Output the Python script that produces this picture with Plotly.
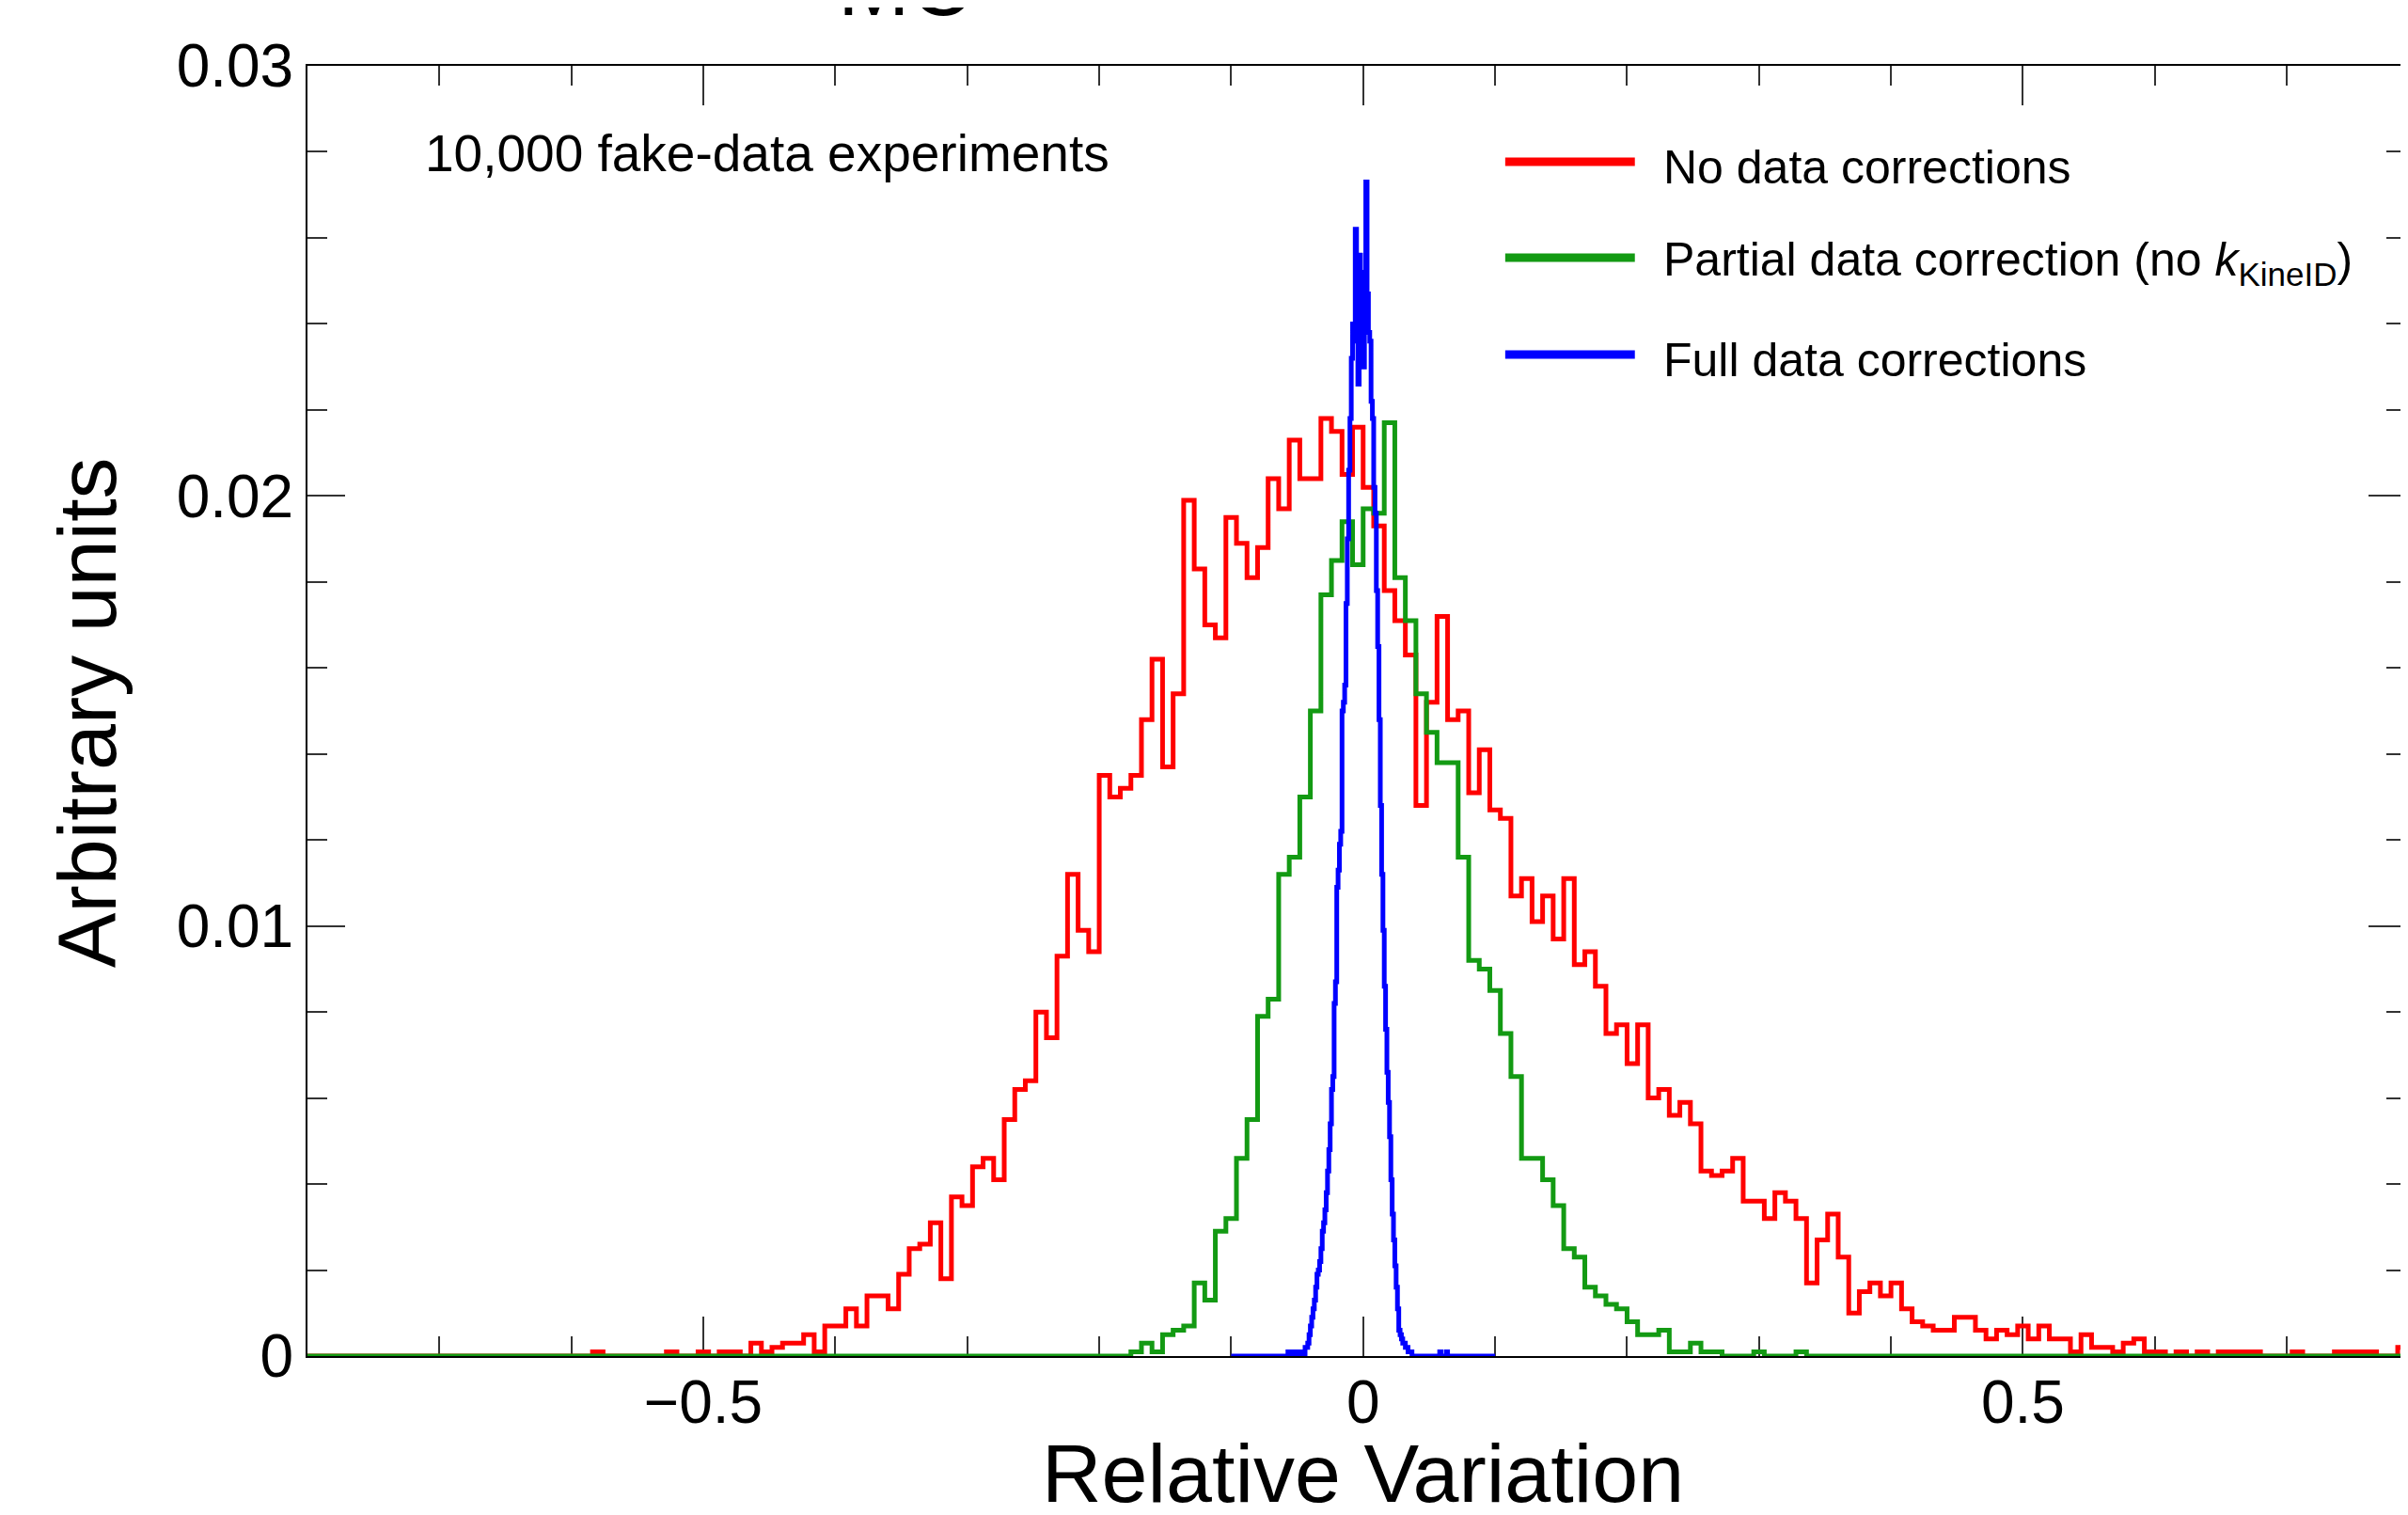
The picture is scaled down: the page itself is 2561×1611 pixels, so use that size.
import numpy as np
import plotly.graph_objects as go

# ---------------- data (bin contents) ----------------
# "No data corrections": 200 bins on [-0.8, 0.8]; listed from bin starting at -0.584
red_range = (-0.8, 0.8)
red_nbins = 200
red_first_edge = -0.584
red_values = [
    0.0001, 0, 0, 0, 0, 0, 0, 0.0001, 0, 0,                                      # -0.584 .. -0.512
    0.0001, 0, 0.0001, 0.0001, 0, 0.0003, 0.0001, 0.0002, 0.0003, 0.0003,        # -0.504 .. -0.432
    0.0005, 0.0001, 0.0007, 0.0007, 0.0011, 0.0007, 0.0014, 0.0014, 0.0011, 0.0019,  # -0.424 .. -0.352
    0.0025, 0.0026, 0.0031, 0.0018, 0.0037, 0.0035, 0.0044, 0.0046, 0.0041, 0.0055,  # -0.344 .. -0.272
    0.0062, 0.0064, 0.0080, 0.0074, 0.0093, 0.0112, 0.0099, 0.0094, 0.0135, 0.0130,  # -0.264 .. -0.192
    0.0132, 0.0135, 0.0148, 0.0162, 0.0137, 0.0154, 0.0199, 0.0183, 0.0170, 0.0167,  # -0.184 .. -0.112
    0.0195, 0.0189, 0.0181, 0.0188, 0.0204, 0.0197, 0.0213, 0.0204, 0.0204, 0.0218,  # -0.104 .. -0.032
    0.0215, 0.0205, 0.0216, 0.0202, 0.0193, 0.0178, 0.0171, 0.0163, 0.0128, 0.0152,  # -0.024 .. 0.048
    0.0172, 0.0148, 0.0150, 0.0131, 0.0141, 0.0127, 0.0125, 0.0107, 0.0111, 0.0101,  # 0.056 .. 0.128
    0.0107, 0.0097, 0.0111, 0.0091, 0.0094, 0.0086, 0.0075, 0.0077, 0.0068, 0.0077,  # 0.136 .. 0.208
    0.0060, 0.0062, 0.0056, 0.0059, 0.0054, 0.0043, 0.0042, 0.0043, 0.0046, 0.0036,  # 0.216 .. 0.288
    0.0036, 0.0032, 0.0038, 0.0036, 0.0032, 0.0017, 0.0027, 0.0033, 0.0023, 0.0010,  # 0.296 .. 0.368
    0.0015, 0.0017, 0.0014, 0.0017, 0.0011, 0.0008, 0.0007, 0.0006, 0.0006, 0.0009,  # 0.376 .. 0.448
    0.0009, 0.0006, 0.0004, 0.0006, 0.0005, 0.0007, 0.0004, 0.0007, 0.0004, 0.0004,  # 0.456 .. 0.528
    0.0001, 0.0005, 0.0002, 0.0002, 0.0001, 0.0003, 0.0004, 0.0001, 0.0001, 0,       # 0.536 .. 0.608
    0.0001, 0, 0.0001, 0, 0.0001, 0.0001, 0.0001, 0.0001, 0, 0,                      # 0.616 .. 0.688
    0, 0.0001, 0, 0, 0, 0.0001, 0.0001, 0.0001, 0.0001, 0,                           # 0.696 .. 0.768
    0, 0.0002, 0.0001,                                                               # 0.776 .. 0.792
]

# "Partial data correction": 200 bins on [-0.8, 0.8]; listed from bin starting at -0.176
green_range = (-0.8, 0.8)
green_nbins = 200
green_first_edge = -0.176
green_values = [
    0.0001, 0.0003, 0.0001, 0.0005, 0.0006, 0.0007, 0.0017, 0.0013, 0.0029, 0.0032,  # -0.176 .. -0.104
    0.0046, 0.0055, 0.0079, 0.0083, 0.0112, 0.0116, 0.0130, 0.0150, 0.0177, 0.0185,  # -0.096 .. -0.024
    0.0194, 0.0184, 0.0197, 0.0196, 0.0217, 0.0181, 0.0171, 0.0154, 0.0145, 0.0138,  # -0.016 .. 0.056
    0.0138, 0.0116, 0.0092, 0.0090, 0.0085, 0.0075, 0.0065, 0.0046, 0.0046, 0.0041,  # 0.064 .. 0.136
    0.0035, 0.0025, 0.0023, 0.0016, 0.0014, 0.0012, 0.0011, 0.0008, 0.0005, 0.0005,  # 0.144 .. 0.216
    0.0006, 0.0001, 0.0001, 0.0003, 0.0001, 0.0001, 0, 0, 0, 0.0001,                 # 0.224 .. 0.296
    0, 0, 0, 0.0001,                                                                 # 0.304 .. 0.328
]

# "Full data corrections": 200 bins on [-0.1, 0.1]; listed from bin starting at -0.057
blue_range = (-0.1, 0.1)
blue_nbins = 200
blue_first_edge = -0.057
blue_values = [
    0.0001, 0, 0, 0.0001, 0, 0, 0.0001, 0, 0.0001, 0,                                # -0.057 .. -0.048
    0.0001, 0.0001, 0, 0.0002, 0.0002, 0.0003, 0.0005, 0.0007, 0.0009, 0.0011,       # -0.047 .. -0.038
    0.0013, 0.0016, 0.0019, 0.0020, 0.0022, 0.0025, 0.0029, 0.0031, 0.0034, 0.0038,  # -0.037 .. -0.028
    0.0043, 0.0048, 0.0054, 0.0062, 0.0065, 0.0082, 0.0087, 0.0109, 0.0113, 0.0119,  # -0.027 .. -0.018
    0.0122, 0.0150, 0.0152, 0.0156, 0.0175, 0.0190, 0.0206, 0.0218, 0.0232, 0.0240,  # -0.017 .. -0.008
    0.0236, 0.0262, 0.0246, 0.0226, 0.0256, 0.0234, 0.0248, 0.0230, 0.0252, 0.0273,  # -0.007 .. 0.002
    0.0247, 0.0238, 0.0236, 0.0222, 0.0218, 0.0202, 0.0196, 0.0178, 0.0165, 0.0148,  # 0.003 .. 0.012
    0.0128, 0.0112, 0.0099, 0.0086, 0.0076, 0.0066, 0.0059, 0.0051, 0.0041, 0.0033,  # 0.013 .. 0.022
    0.0027, 0.0021, 0.0016, 0.0011, 0.0006, 0.0005, 0.0004, 0.0003, 0.0003, 0.0002,  # 0.023 .. 0.032
    0.0002, 0.0001, 0.0001, 0.0001, 0, 0, 0, 0, 0, 0,                                # 0.033 .. 0.042
    0, 0, 0, 0, 0, 0, 0, 0, 0, 0,                                                    # 0.043 .. 0.052
    0, 0, 0, 0, 0, 0.0001, 0, 0, 0, 0,                                               # 0.053 .. 0.062
    0.0001,                                                                          # 0.063
]

series_names = [
    "No data corrections",
    "Partial data correction (no <i>k</i><sub>KineID</sub>)",
    "Full data corrections",
]
series_colors = ["#ff0000", "#139a13", "#0000ff"]

x_tick_vals = [-0.5, 0, 0.5]
x_tick_text = ["\u22120.5", "0", "0.5"]
y_tick_vals = [0, 0.01, 0.02, 0.03]
y_tick_text = ["0", "0.01", "0.02", "0.03"]

x_title = "Relative Variation"
y_title = "Arbitrary units"
top_title = "MC"
note_text = "10,000 fake-data experiments"


def histogram_outline(hrange, nbins, first_edge, values):
    lo, hi = hrange
    width = (hi - lo) / nbins
    offset = int(round((first_edge - lo) / width))
    contents = np.zeros(nbins)
    contents[offset:offset + len(values)] = values
    edges = lo + width * np.arange(nbins + 1)
    return edges, np.append(contents, contents[-1])


hists = [
    (red_range, red_nbins, red_first_edge, red_values),
    (green_range, green_nbins, green_first_edge, green_values),
    (blue_range, blue_nbins, blue_first_edge, blue_values),
]

# ---------------- layout in page pixels ----------------
PAGE_W, PAGE_H = 2561, 1611
BODY = 8                      # default <body> margin of the written page
PLOT_L, PLOT_T, PLOT_B = 327, 70, 1442   # plot-area edges on the page
W = PAGE_W - BODY
H = PAGE_H - BODY
ML = PLOT_L - BODY
MT = PLOT_T - BODY
MB = PAGE_H - PLOT_B
PX_PER_UNIT = 1404.7
x_lo = -0.8
x_hi = x_lo + (PAGE_W - PLOT_L) / PX_PER_UNIT

FONT = "Liberation Sans, Arial, Helvetica, sans-serif"

fig = go.Figure()
for (hr, nb, fe, vals), name, col in zip(hists, series_names, series_colors):
    ex, ey = histogram_outline(hr, nb, fe, vals)
    fig.add_trace(go.Scatter(
        x=ex, y=ey, mode="lines", line=dict(color=col, width=5, shape="hv"),
        name=name, showlegend=False, hoverinfo="skip",
    ))

axis_common = dict(
    showline=True, linecolor="#000000", linewidth=2, mirror="ticks",
    ticks="inside", tickwidth=2, tickcolor="#333333",
    showgrid=False, zeroline=False, layer="below traces",
    tickfont=dict(family=FONT, size=64, color="#000000"),
)

fig.update_xaxes(
    range=[x_lo, x_hi], tickmode="array", tickvals=x_tick_vals,
    ticktext=x_tick_text, ticklen=42, ticklabelstandoff=-8,
    minor=dict(dtick=0.1, tick0=0, ticklen=21, tickwidth=2, tickcolor="#333333", ticks="inside"),
    **axis_common,
)
fig.update_yaxes(
    range=[0, 0.03], tickmode="array", tickvals=y_tick_vals,
    ticktext=y_tick_text, ticklen=40, ticklabelstandoff=0,
    minor=dict(dtick=0.002, tick0=0, ticklen=21, tickwidth=2, tickcolor="#333333", ticks="inside"),
    **axis_common,
)

plot_w = PAGE_W - PLOT_L
plot_h = PLOT_B - PLOT_T


def px_x(px):
    return (px - PLOT_L) / plot_w


def px_y(py):
    return (PLOT_B - py) / plot_h


annotations = [
    dict(text=top_title, x=px_x(963), y=px_y(37), xref="paper", yref="paper",
         xanchor="center", yanchor="bottom", showarrow=False,
         font=dict(family=FONT, size=92, color="#000000")),
    dict(text=note_text, x=px_x(450), y=px_y(163), xref="paper", yref="paper",
         xanchor="left", yanchor="middle", showarrow=False,
         font=dict(family=FONT, size=55, color="#000000")),
    dict(text=x_title, x=0, y=px_y(1566), xref="x", yref="paper",
         xanchor="center", yanchor="middle", showarrow=False,
         font=dict(family=FONT, size=88, color="#000000")),
    dict(text=y_title, x=px_x(92), y=px_y(758), xref="paper", yref="paper",
         xanchor="center", yanchor="middle", textangle=-90, showarrow=False,
         font=dict(family=FONT, size=88, color="#000000")),
]

legend_rows_px = [172, 274, 377]
shapes = []
for name, col, ypx in zip(series_names, series_colors, legend_rows_px):
    shapes.append(dict(type="line", xref="paper", yref="paper",
                       x0=px_x(1602), x1=px_x(1740), y0=px_y(ypx), y1=px_y(ypx),
                       line=dict(color=col, width=9)))
    annotations.append(dict(text=name, x=px_x(1768), y=px_y(ypx + 6), xref="paper", yref="paper",
                            xanchor="left", yanchor="middle", showarrow=False,
                            font=dict(family=FONT, size=50, color="#000000")))

fig.update_layout(
    width=W, height=H,
    margin=dict(l=ML, r=0, t=MT, b=MB, pad=0),
    paper_bgcolor="#ffffff", plot_bgcolor="#ffffff",
    font=dict(family=FONT, color="#000000"),
    annotations=annotations, shapes=shapes, showlegend=False,
)

fig.write_html("out.html")
